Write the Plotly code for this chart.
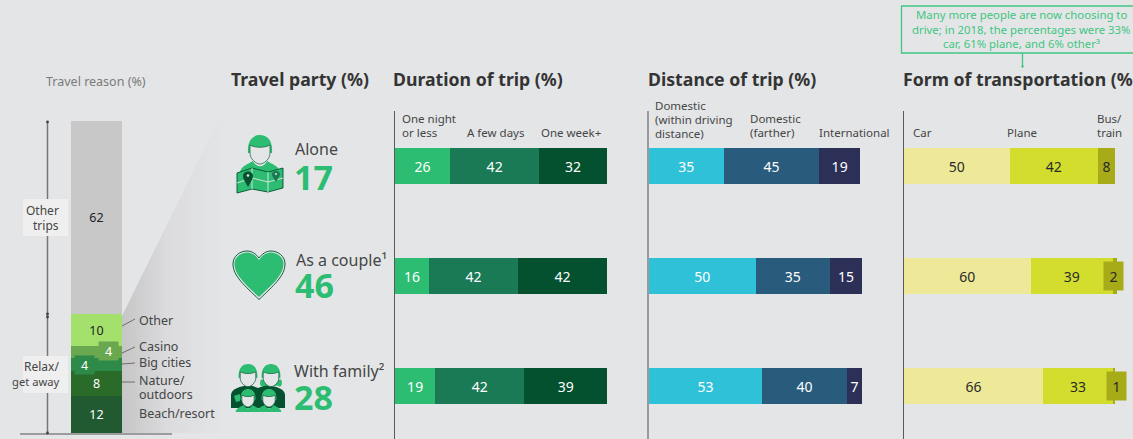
import plotly.graph_objects as go

W, H = 1133, 439
BG = "#e4e5e7"
FONT = "Noto Sans"
INK = "#454545"
TITLE = "#343434"
GREEN = "#2cbd72"
DARK = "#03512f"
NOTE = "#3fc682"

# ---- data ----
stack_names = ["Beach/resort", "Nature/outdoors", "Big cities", "Casino", "Other", "Other trips"]
stack_values = [12, 8, 4, 4, 10, 62]
parties = ["Alone", "As a couple", "With family"]
party_values = [17, 46, 28]
duration_names = ["One night or less", "A few days", "One week+"]
duration_values = [[26, 16, 19], [42, 42, 42], [32, 42, 39]]
distance_names = ["Domestic (within driving distance)", "Domestic (farther)", "International"]
distance_values = [[35, 50, 53], [45, 35, 40], [19, 15, 7]]
transport_names = ["Car", "Plane", "Bus/train"]
transport_values = [[50, 60, 66], [42, 39, 33], [8, 2, 1]]

stack_colors = ["#215a30", "#2a6b2a", "#2d8a48", "#69a84f", "#a3e16c", "#c8c8c8"]
stack_text = ["#ffffff", "#ffffff", "#ffffff", "#ffffff", "#222222", "#222222"]
duration_colors = [GREEN, "#1a7a55", DARK]
distance_colors = ["#2fc1d8", "#285b7c", "#2c3056"]
transport_colors = ["#eee999", "#d2dd2e", "#a8ab18"]


def dom_x(a, b):
    return [a / W, b / W]


def dom_y(top, bottom):
    return [1 - bottom / H, 1 - top / H]


fig = go.Figure()

# funnel behind the breakdown (pixel-space decoration layer)
fig.add_trace(go.Scatter(
    x=[122, 222, 226, 226, 122], y=[316, 113, 113, 433, 433],
    mode="lines", line=dict(width=0), fill="toself", hoverinfo="skip", showlegend=False,
    fillgradient=dict(type="horizontal",
                      colorscale=[[0, "#c6c6c7"], [0.45, "#dcdcde"], [1, BG]]),
    xaxis="x", yaxis="y"))

# left stacked column
for name, val, col, tc in zip(stack_names, stack_values, stack_colors, stack_text):
    small = val == 4
    fig.add_trace(go.Bar(
        x=[0], y=[val], width=1, name=name, marker=dict(color=col, line=dict(width=0)),
        text=["" if small else str(val)], textposition="inside", insidetextanchor="middle",
        textangle=0, constraintext="none", textfont=dict(family=FONT, size=12.5, color=tc),
        showlegend=False, xaxis="x2", yaxis="y2"))


def panel(names, values, colors, xa, ya, text_colors):
    for name, vals, col, tc in zip(names, values, colors, text_colors):
        fig.add_trace(go.Bar(
            y=parties, x=vals, width=0.332, orientation="h", name=name,
            marker=dict(color=col, line=dict(width=0)),
            text=[str(v) if v >= 5 else "" for v in vals],
            textposition="inside", insidetextanchor="middle", textangle=0, constraintext="none",
            textfont=dict(family=FONT, size=14, color=tc),
            showlegend=False, xaxis=xa, yaxis=ya))


panel(duration_names, duration_values, duration_colors, "x3", "y3", ["#fff"] * 3)
panel(distance_names, distance_values, distance_colors, "x4", "y4", ["#fff"] * 3)
panel(transport_names, transport_values, transport_colors, "x5", "y5", ["#2a2a2a"] * 3)

hidden = dict(visible=False, fixedrange=True)
row_range = [2.48, -0.5]


def yrow(color, width):
    return dict(type="category", categoryorder="array", categoryarray=parties, range=row_range,
                domain=dom_y(111, 439), showline=True, linecolor=color, linewidth=width,
                showticklabels=False, ticks="", showgrid=False, zeroline=False, fixedrange=True)


fig.update_layout(
    width=W, height=H, margin=dict(l=0, r=0, t=0, b=0, pad=0), autosize=False,
    paper_bgcolor=BG, plot_bgcolor="rgba(0,0,0,0)", barmode="stack", showlegend=False,
    font=dict(family=FONT, color=INK),
    xaxis=dict(hidden, domain=[0, 1], range=[0, W]),
    yaxis=dict(hidden, domain=[0, 1], range=[H, 0]),
    xaxis2=dict(hidden, domain=dom_x(71, 122), range=[-0.5, 0.5], anchor="y2"),
    yaxis2=dict(hidden, domain=dom_y(121, 433), range=[0, 100], anchor="x2"),
    xaxis3=dict(hidden, domain=dom_x(395, 607), range=[0, 100], anchor="y3"),
    yaxis3=dict(yrow("#5a5a5a", 1), anchor="x3"),
    xaxis4=dict(hidden, domain=dom_x(649, 862), range=[0, 100], anchor="y4"),
    yaxis4=dict(yrow("#9a9a9c", 2), anchor="x4"),
    xaxis5=dict(hidden, domain=dom_x(904, 1133), range=[0, 229 / 2.11], anchor="y5"),
    yaxis5=dict(yrow("#5a5a5a", 1), anchor="x5"),
)

shapes = []
annots = []


def txt(x, y, s, size=12, color=INK, anchor="left", **kw):
    annots.append(dict(x=x - 1, y=y - 1, xref="x", yref="y", text=s, showarrow=False, xanchor=anchor,
                       yanchor="middle", font=dict(family=FONT, size=size, color=color),
                       borderpad=0, align=anchor, **kw))


def line(x0, y0, x1, y1, color="#555555", width=1):
    shapes.append(dict(type="line", x0=x0, y0=y0, x1=x1, y1=y1, xref="x", yref="y",
                       line=dict(color=color, width=width), layer="above"))


def rect(x0, y0, x1, y1, fill=None, lc=None, lw=0, layer="above"):
    shapes.append(dict(type="rect", x0=x0, y0=y0, x1=x1, y1=y1, xref="x", yref="y",
                       fillcolor=fill or "rgba(0,0,0,0)", layer=layer,
                       line=dict(color=lc or "rgba(0,0,0,0)", width=lw)))


def path(d, fill=None, lc=None, lw=0):
    shapes.append(dict(type="path", path=d, xref="x", yref="y", layer="above",
                       fillcolor=fill or "rgba(0,0,0,0)",
                       line=dict(color=lc or "rgba(0,0,0,0)", width=lw)))


def dot(x, y, r=1.3, color="#444444"):
    shapes.append(dict(type="circle", x0=x - r, x1=x + r, y0=y - r, y1=y + r, xref="x", yref="y",
                       fillcolor=color, line=dict(width=0), layer="above"))


# titles
txt(96.5, 82, "Travel reason (%)", 12.5, "#7a7a7a", "center")
for x, t in [(231, "Travel party"), (393, "Duration of trip"), (648, "Distance of trip"),
             (903, "Form of transportation")]:
    txt(x, 80, f"<b>{t} (%)</b>", 17.7, TITLE)

# note
rect(901.5, 6, 1140, 53, lc=NOTE, lw=1.3)
txt(1022, 15, "Many more people are now choosing to", 11.35, NOTE, "center")
txt(1022, 30, "drive; in 2018, the percentages were 33%", 11.35, NOTE, "center")
txt(1022, 44, "car, 61% plane, and 6% other³", 11.35, NOTE, "center")
line(1022.5, 53, 1022.5, 66, NOTE, 1.3)
dot(1022.5, 66.5, 1.2, NOTE)

# left column furniture
line(20, 434, 172, 434, "#9c9c9e", 2)
line(47.5, 122, 47.5, 433, "#777777", 1.5)
for yy in [122, 314, 317, 433]:
    dot(47.5, yy, 1.4, "#444444")
rect(23, 199, 68, 236, "#efefef")
rect(23, 356, 68, 393, "#efefef")
txt(61, 211, "Other", 12, INK, "right")
txt(61, 226, "trips", 12, INK, "right")
txt(61, 367, "Relax/", 12, INK, "right")
txt(61, 382, "get away", 11.2, INK, "right")

# breakdown labels
for y0, y1 in [(326, 319), (353, 347), (364, 363), (382, 382)]:
    line(122, y0, 135, y1, "#555555", 0.8)
txt(139, 321, "Other", 12.5)
txt(139, 347, "Casino", 12.5)
txt(139, 363, "Big cities", 12.5)
txt(139, 381, "Nature/", 12.5)
txt(139, 395, "outdoors", 12.5)
txt(139, 414, "Beach/resort", 12.5)

# value chips on the thin stack segments
for x, y, v, c in [(0.235, 26.3, stack_values[3], stack_colors[3]),
                   (-0.235, 21.8, stack_values[2], stack_colors[2])]:
    annots.append(dict(x=x, y=y, xref="x2", yref="y2", text=str(v), showarrow=False, bgcolor=c,
                       width=19, height=18, borderpad=0,
                       font=dict(family=FONT, size=12.5, color="#fff")))

# column headers
for x, y, t in [(402, 119, "One night"), (402, 133, "or less"), (467, 133, "A few days"),
                (541, 133, "One week+"),
                (655, 106, "Domestic"), (655, 120, "(within driving"), (655, 134, "distance)"),
                (750, 119, "Domestic"), (750, 133, "(farther)"), (819, 133, "International"),
                (913, 133, "Car"), (1007, 133, "Plane"), (1097, 119, "Bus/"), (1097, 133, "train")]:
    txt(x, y, t, 11.5, INK)

# chips for the very small transport shares
for row, xv in [(1, 99.3), (2, 100.9)]:
    annots.append(dict(x=xv, y=row, xref="x5", yref="y5", text=str(transport_values[2][row]),
                       showarrow=False, bgcolor=transport_colors[2], width=19, height=28, borderpad=0,
                       font=dict(family=FONT, size=14, color="#2a2a2a")))

# party labels + big numbers
txt(295, 150, parties[0], 16)
txt(294, 178, f"<b>{party_values[0]}</b>", 34, GREEN)
txt(296, 261, f"{parties[1]}¹", 16)
txt(295, 286, f"<b>{party_values[1]}</b>", 34, GREEN)
txt(294, 372, f"{parties[2]}²", 16)
txt(294, 398, f"<b>{party_values[2]}</b>", 34, GREEN)


# icons
def person(cx, top, s=1.0, body=GREEN, hair=GREEN, tails=False, shoulders=True):
    def P(dx, dy):
        return f"{cx + dx * s:.2f},{top + dy * s:.2f}"
    if tails:
        path(f"M{P(-13, 20)} C{P(-16, 27)} {P(-12, 31)} {P(-9, 28)} L{P(9, 28)} "
             f"C{P(12, 31)} {P(16, 27)} {P(13, 20)} Z", hair)
    if shoulders:
        path(f"M{P(-20, 37)} C{P(-19, 31)} {P(-12, 29)} {P(-7, 26)} C{P(-4, 33)} {P(4, 33)} {P(7, 26)} "
             f"C{P(12, 29)} {P(19, 31)} {P(20, 37)} Z", body)
    path(f"M{P(-12, 18)} C{P(-13, 4)} {P(-6, 0)} {P(0, 0)} C{P(6, 0)} {P(13, 4)} {P(12, 18)} Z", hair)
    path(f"M{P(-10, 10)} C{P(-5, 13)} {P(5, 13)} {P(10, 10)} L{P(10, 18)} "
         f"C{P(10, 24)} {P(4, 29)} {P(0, 29)} C{P(-4, 29)} {P(-10, 24)} {P(-10, 18)} Z",
         BG, "#0f5a3a", 0.7)


# alone: person holding a map
person(260, 135)
path("M237,173 L252,168 L268,172 L283,168 L283,188 L268,192 L252,189 L237,193 Z", GREEN, DARK, 0.9)
for d in ["M252,168 L252,189", "M268,172 L268,192", "M237,183 L252,178 L268,182 L283,178"]:
    path(d, None, BG, 0.9)
path("M248,187 C244,180 243,178 243,176 C243,170 253,170 253,176 C253,178 252,180 248,187 Z", DARK)
dot(248, 175.5, 1.3, BG)
path("M276,182 C273,177 272,176 272,174 C272,170 280,170 280,174 C280,176 279,177 276,182 Z", "#1a7a55")
dot(276, 174, 1, BG)

# couple: heart
outer = "M259,299.5 C245,286 233,276 233,264 C233,256 240,251 247,251 C252,251 256,254 259,258 C262,254 266,251 271,251 C278,251 285,256 285,264 C285,276 273,286 259,299.5 Z"
inner = "M259,297 C246,285 234.5,275 234.5,264 C234.5,257 241,252.5 247,252.5 C252,252.5 256,255.5 259,260 C262,255.5 266,252.5 271,252.5 C277,252.5 283.5,257 283.5,264 C283.5,275 272,285 259,297 Z"
path(outer, BG, "#0f5a3a", 1)
path(inner, GREEN)

# family: two adults, two children
path("M231,408 L231,395 C231,389 240,386 250,385 L258,388 L258,408 Z", DARK)
path("M285,408 L285,395 C285,389 276,386 266,385 L258,388 L258,408 Z", DARK)
person(248, 364, 0.78, DARK, GREEN, shoulders=False)
person(271, 364, 0.78, DARK, GREEN, tails=True, shoulders=False)
path("M240,394 L234,396 L236,402 L240,401 Z", GREEN)
person(248, 389, 0.62)
person(269, 389, 0.62)

fig.update_layout(shapes=shapes, annotations=annots)
fig.write_html("out.html", config=dict(displayModeBar=False),
               post_script="document.body.style.margin='0';document.body.style.background='%s';" % BG)
